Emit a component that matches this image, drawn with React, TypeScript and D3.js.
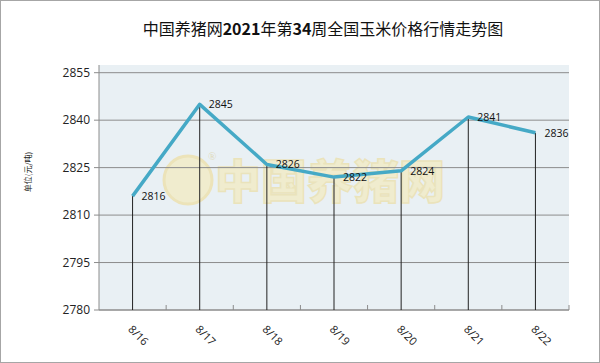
import React, { useEffect, useRef } from "react";
import * as d3 from "d3";

const dates = ["8/16", "8/17", "8/18", "8/19", "8/20", "8/21", "8/22"];
const prices = [2816, 2845, 2826, 2822, 2824, 2841, 2836];
const yTicks = [2780, 2795, 2810, 2825, 2840, 2855];

export default function App() {
  const svgRef = useRef<SVGSVGElement>(null);

  useEffect(() => {
    const svg = d3.select(svgRef.current);
    svg.selectAll("*").remove();

    const width = 600, height = 363;
    const left = 99, right = 569, top = 65, bottom = 310;

    const x = d3.scaleBand().domain(dates).range([left, right]);
    const y = d3.scaleLinear().domain([2780, 2855]).range([bottom, 72.7]);

    svg.attr("width", width).attr("height", height);

    // outer frame
    svg.append("rect")
      .attr("x", 0.5).attr("y", 0.5)
      .attr("width", width - 1).attr("height", height - 1)
      .attr("fill", "#fff").attr("stroke", "#a6a6a6");

    // title
    const title = svg.append("text")
      .attr("x", 323).attr("y", 35)
      .attr("text-anchor", "middle")
      .style("font-family", "'Noto Sans CJK SC', sans-serif")
      .style("font-size", "16px")
      .attr("fill", "#111");
    [["中国养猪网", false], ["2021", true], ["年第", false], ["34", true], ["周全国玉米价格行情走势图", false]]
      .forEach(([t, b]) => {
        title.append("tspan").text(t as string).style("font-weight", b ? "bold" : "normal");
      });

    // plot background
    svg.append("rect")
      .attr("x", left).attr("y", top)
      .attr("width", right - left).attr("height", bottom - top)
      .attr("fill", "#e9f0f4");

    // watermark
    const wm = svg.append("g").attr("opacity", 0.55);
    wm.append("circle").attr("cx", 188).attr("cy", 180).attr("r", 24)
      .attr("fill", "#f6eab0").attr("stroke", "#efd98a").attr("stroke-width", 3);
    wm.append("text").attr("x", 208).attr("y", 160).text("®")
      .style("font-size", "11px").attr("fill", "#d8c98a");
    wm.append("text")
      .attr("x", 215).attr("y", 198)
      .text("中国养猪网")
      .style("font-family", "'Noto Sans CJK SC', sans-serif")
      .style("font-weight", "900")
      .style("font-size", "46px")
      .attr("fill", "#f6eab0")
      .attr("stroke", "#ecd98e")
      .attr("stroke-width", 1.5);

    // gridlines
    svg.append("g")
      .selectAll("line")
      .data(yTicks)
      .enter()
      .append("line")
      .attr("x1", left - 5).attr("x2", right)
      .attr("y1", d => y(d)).attr("y2", d => y(d))
      .attr("stroke", "#8c8c8c").attr("stroke-width", 1);

    // y axis line
    svg.append("line")
      .attr("x1", left).attr("x2", left)
      .attr("y1", top).attr("y2", bottom)
      .attr("stroke", "#8c8c8c");

    // y tick labels
    svg.append("g")
      .selectAll("text")
      .data(yTicks)
      .enter()
      .append("text")
      .attr("x", left - 9)
      .attr("y", d => y(d) + 4)
      .attr("text-anchor", "end")
      .style("font-family", "'Open Sans', sans-serif")
      .style("font-size", "12px")
      .attr("fill", "#222")
      .text(d => d);

    // y title
    svg.append("text")
      .attr("transform", "translate(31,172) rotate(-90)")
      .attr("text-anchor", "middle")
      .style("font-family", "'Noto Sans CJK SC', sans-serif")
      .style("font-size", "8px")
      .attr("fill", "#222")
      .text("单位(元/吨)");

    // x axis baseline and boundary ticks
    svg.append("line")
      .attr("x1", left).attr("x2", right)
      .attr("y1", bottom).attr("y2", bottom)
      .attr("stroke", "#8c8c8c");
    svg.append("g")
      .selectAll("line")
      .data(dates)
      .enter()
      .append("line")
      .attr("x1", d => (x(d) as number) + x.bandwidth())
      .attr("x2", d => (x(d) as number) + x.bandwidth())
      .attr("y1", bottom).attr("y2", bottom - 5)
      .attr("stroke", "#8c8c8c");

    const cx = (d: string) => (x(d) as number) + x.bandwidth() / 2;

    // drop lines
    svg.append("g")
      .selectAll("line")
      .data(dates)
      .enter()
      .append("line")
      .attr("x1", d => cx(d)).attr("x2", d => cx(d))
      .attr("y1", (d, i) => y(prices[i])).attr("y2", bottom)
      .attr("stroke", "#222").attr("stroke-width", 1);

    // price line
    svg.append("path")
      .attr("d", d3.line<number>()
        .x((d, i) => cx(dates[i]))
        .y(d => y(d))(prices))
      .attr("fill", "none")
      .attr("stroke", "#45a9c6")
      .attr("stroke-width", 3.5)
      .attr("stroke-linejoin", "round");

    // value labels
    svg.append("g")
      .selectAll("text")
      .data(prices)
      .enter()
      .append("text")
      .attr("x", (d, i) => cx(dates[i]) + 9)
      .attr("y", d => y(d) + 4)
      .style("font-family", "'Open Sans', sans-serif")
      .style("font-size", "10.5px")
      .attr("fill", "#111")
      .text(d => d);

    // x labels
    svg.append("g")
      .selectAll("text")
      .data(dates)
      .enter()
      .append("text")
      .attr("transform", d => `translate(${cx(d) - 5},${bottom + 20}) rotate(45)`)
      .attr("text-anchor", "start")
      .style("font-family", "'Open Sans', sans-serif")
      .style("font-size", "11px")
      .attr("fill", "#222")
      .text(d => d);
  }, []);

  return (
    <div style={{ position: "absolute", left: 0, top: 0 }}>
      <svg ref={svgRef} style={{ display: "block" }}></svg>
    </div>
  );
}
